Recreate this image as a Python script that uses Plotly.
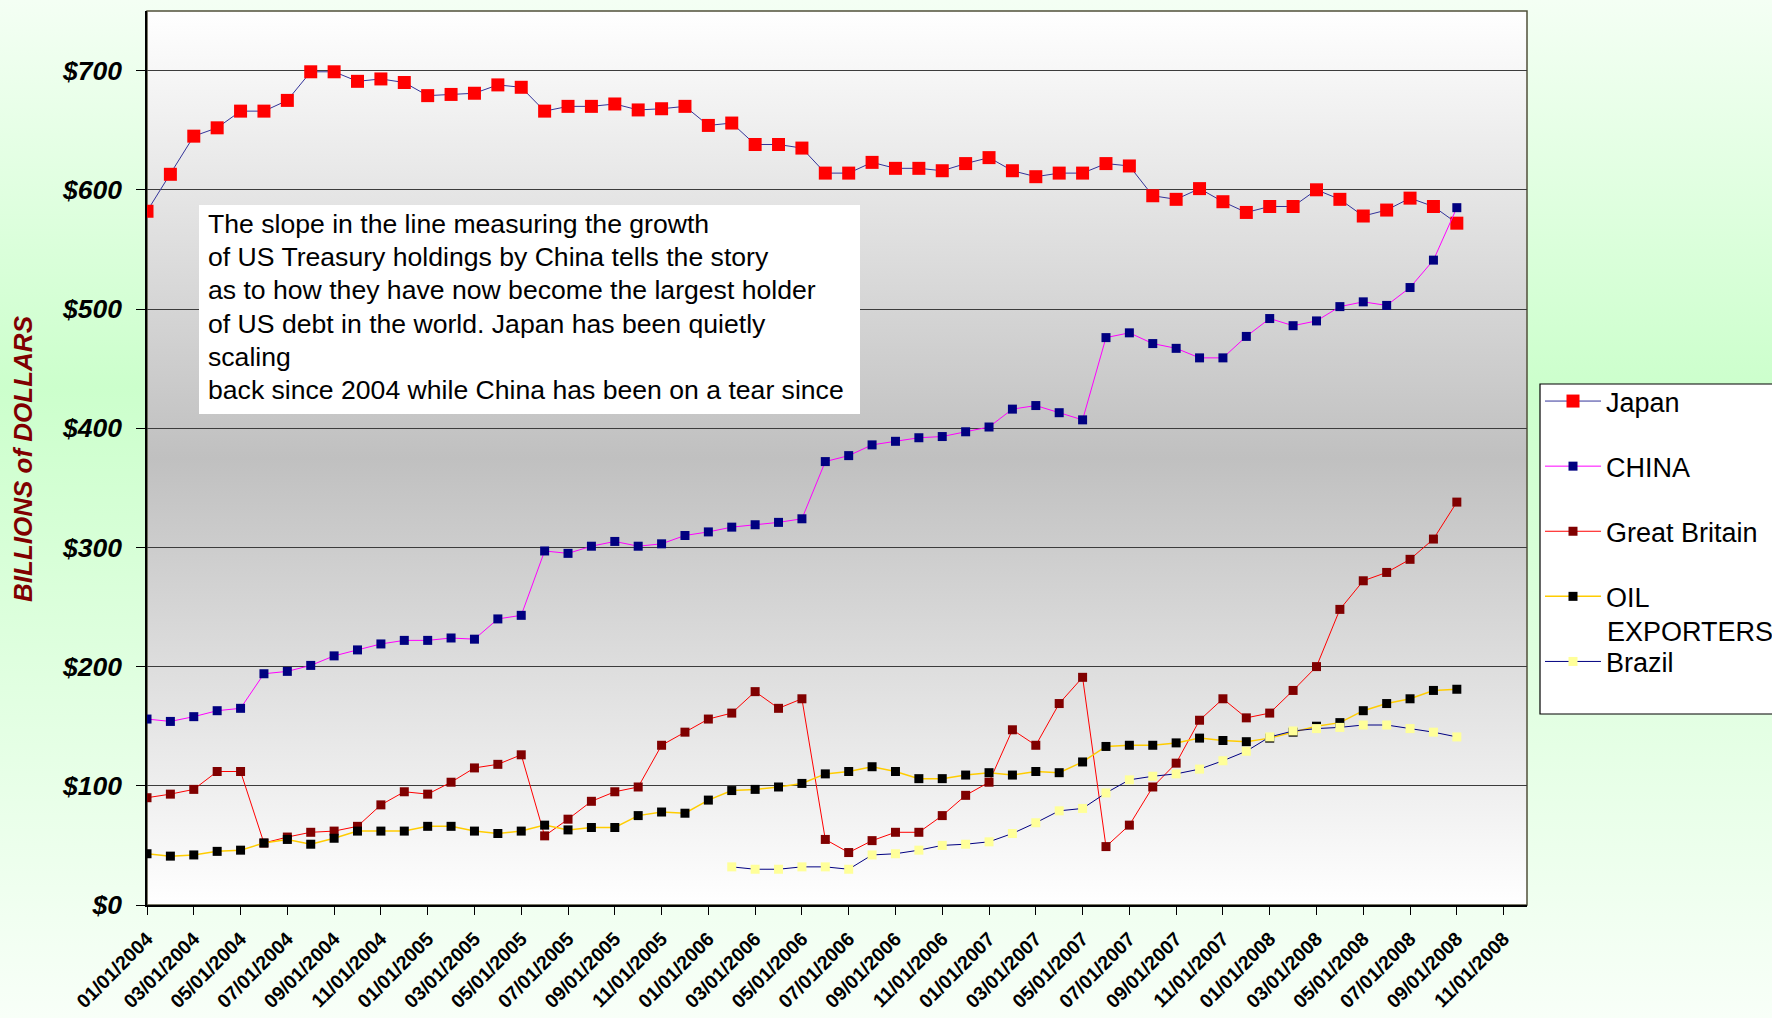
import base64
import plotly.graph_objects as go

# ---------------- data ----------------
months = [f"{m:02d}/01/{y}" for y in range(2004, 2009) for m in range(1, 13)]  # 01/2004 .. 12/2008
dates = months[:57]  # 01/01/2004 .. 09/01/2008

japan = [582, 613, 645, 652, 666, 666, 675, 699, 699, 691, 693, 690, 679, 680, 681, 688, 686,
         666, 670, 670, 672, 667, 668, 670, 654, 656, 638, 638, 635, 614, 614, 623, 618, 618,
         616, 622, 627, 616, 611, 614, 614, 622, 620, 595, 592, 601, 590, 581, 586, 586, 600,
         592, 578, 583, 593, 586, 572]
china = [156, 154, 158, 163, 165, 194, 196, 201, 209, 214, 219, 222, 222, 224, 223, 240, 243,
         297, 295, 301, 305, 301, 303, 310, 313, 317, 319, 321, 324, 372, 377, 386, 389, 392,
         393, 397, 401, 416, 419, 413, 407, 476, 480, 471, 467, 459, 459, 477, 492, 486, 490,
         502, 506, 503, 518, 541, 585]
great_britain = [90, 93, 97, 112, 112, 52, 57, 61, 62, 66, 84, 95, 93, 103, 115, 118, 126,
                 58, 72, 87, 95, 99, 134, 145, 156, 161, 179, 165, 173, 55, 44, 54, 61, 61,
                 75, 92, 103, 147, 134, 169, 191, 49, 67, 99, 119, 155, 173, 157, 161, 180,
                 200, 248, 272, 279, 290, 307, 338]
oil_exporters = [43, 41, 42, 45, 46, 52, 55, 51, 56, 62, 62, 62, 66, 66, 62, 60, 62, 67, 63,
                 65, 65, 75, 78, 77, 88, 96, 97, 99, 102, 110, 112, 116, 112, 106, 106, 109,
                 111, 109, 112, 111, 120, 133, 134, 134, 136, 140, 138, 137, 140, 145, 150,
                 153, 163, 169, 173, 180, 181]
brazil = [None] * 25 + [32, 30, 30, 32, 32, 30, 42, 43, 46, 50, 51, 53, 60, 69, 79, 81, 94,
                        105, 108, 110, 114, 121, 129, 141, 146, 148, 149, 151, 151, 148, 145,
                        141]

y_tick_values = [0, 100, 200, 300, 400, 500, 600, 700]
y_tick_labels = ["$0", "$100", "$200", "$300", "$400", "$500", "$600", "$700"]
x_tick_labels = months[0:59:2]  # 01/01/2004 .. 11/01/2008

note_lines = [
    "The slope in the line measuring the growth",
    "of US Treasury holdings by China tells the story",
    "as to how they have now become the largest holder",
    "of US debt in the world. Japan has been quietly",
    "scaling",
    "back since 2004 while China has been on a tear since",
]

# ---------------- geometry ----------------
W, H = 1772, 1018
ML, MR, MT, MB = 147, 245, 11, 113
PW, PH = W - ML - MR, H - MT - MB
LEG_X = 1540
ITEMW = 56


def px_x(x):
    return (x - ML) / PW


def px_y(y):
    return (H - MB - y) / PH


def grad_uri(stops):
    st = "".join(f'<stop offset="{o}" stop-color="{c}"/>' for o, c in stops)
    svg = ('<svg xmlns="http://www.w3.org/2000/svg" width="100" height="100" '
           'preserveAspectRatio="none"><defs><linearGradient id="g" x1="0" y1="0" x2="0" y2="1">'
           f'{st}</linearGradient></defs><rect width="100" height="100" fill="url(#g)"/></svg>')
    return "data:image/svg+xml;base64," + base64.b64encode(svg.encode()).decode()


paper_grad = grad_uri([(0, "#f4fff4"), (0.38, "#ccffcc"), (1, "#f8fff8")])
plot_grad = grad_uri([(0, "#ffffff"), (0.5, "#c0c0c0"), (1, "#ffffff")])

fig = go.Figure()

series = [
    ("Japan", japan, "#333399", 1, "#ff0000", 13),
    ("CHINA", china, "#ff00ff", 1, "#000080", 9),
    ("Great Britain", great_britain, "#ff0000", 1, "#800000", 9),
    ("OIL", oil_exporters, "#ffcc00", 1.5, "#000000", 9),
    ("Brazil", brazil, "#000080", 1, "#ffff99", 9),
]
for name, vals, lc, lw, mc, ms in series:
    fig.add_trace(go.Scatter(
        x=dates, y=vals, name=name, mode="lines+markers",
        line=dict(color=lc, width=lw),
        marker=dict(symbol="square", size=ms, color=mc, line=dict(width=0)),
        legendgroup=name, connectgaps=False,
    ))

bold_it = dict(weight="bold", style="italic", color="black")
legend_font = dict(family="Liberation Sans, Arial, sans-serif", size=27, color="black")
note_font = dict(family="Liberation Sans, Arial, sans-serif", size=26.6, color="black")

annotations = [
    dict(text=line, xref="paper", yref="paper",
         x=px_x(206), y=px_y(224 + 33.2 * k), xanchor="left", yanchor="middle",
         align="left", showarrow=False, font=note_font)
    for k, line in enumerate(note_lines)
]
annotations += [
    dict(text="BILLIONS of DOLLARS", xref="paper", yref="paper",
         x=px_x(23), y=px_y(459), xanchor="center", yanchor="middle",
         textangle=-90, showarrow=False,
         font=dict(family="Liberation Sans Narrow, Liberation Sans, Arial, sans-serif",
                   size=26, weight="bold", style="italic", color="#800000")),
    # second line of the "OIL EXPORTERS" legend entry
    dict(text="EXPORTERS", xref="paper", yref="paper",
         x=px_x(LEG_X + ITEMW + 9), y=px_y(632), xanchor="left", yanchor="middle",
         showarrow=False, font=legend_font),
]

fig.update_layout(
    width=W, height=H,
    margin=dict(l=ML, r=MR, t=MT, b=MB, autoexpand=False),
    paper_bgcolor="#ffffff",
    plot_bgcolor="rgba(0,0,0,0)",
    showlegend=True,
    legend=dict(
        x=px_x(LEG_X), y=px_y(377), xanchor="left", yanchor="top",
        bgcolor="rgba(0,0,0,0)", borderwidth=0,
        font=legend_font, itemwidth=ITEMW,
        traceorder="grouped", tracegroupgap=27,
    ),
    xaxis=dict(
        type="category", categoryorder="array", categoryarray=months,
        range=[0, 59], showgrid=False, zeroline=False,
        showline=True, linecolor="#000000", linewidth=1.5,
        ticks="outside", ticklen=8, tickcolor="#000000", tickwidth=1,
        tickmode="array", tickvals=x_tick_labels, ticktext=x_tick_labels,
        tickangle=-45, ticklabelstandoff=5,
        tickfont=dict(family="Liberation Sans, Arial, sans-serif", size=19.5,
                      weight="bold", color="black"),
    ),
    yaxis=dict(
        range=[0, 750], showgrid=True, gridcolor="#3c3c3c", gridwidth=1.2,
        zeroline=False, showline=True, linecolor="#000000", linewidth=1.5,
        ticks="outside", ticklen=9, tickcolor="#000000",
        tickmode="array", tickvals=y_tick_values, ticktext=y_tick_labels,
        ticklabelstandoff=9,
        tickfont=dict(family="Liberation Sans, Arial, sans-serif", size=26.5, **bold_it),
    ),
    images=[
        dict(source=paper_grad, xref="paper", yref="paper",
             x=-ML / PW, y=1 + MT / PH, sizex=W / PW, sizey=H / PH,
             xanchor="left", yanchor="top", sizing="stretch", layer="below"),
        dict(source=plot_grad, xref="paper", yref="paper",
             x=0, y=1, sizex=1, sizey=1,
             xanchor="left", yanchor="top", sizing="stretch", layer="below"),
    ],
    shapes=[
        dict(type="rect", xref="paper", yref="paper", x0=0, x1=1, y0=0, y1=1,
             line=dict(color="#50503a", width=1.5), fillcolor="rgba(0,0,0,0)", layer="below"),
        # white box behind the note
        dict(type="rect", xref="paper", yref="paper",
             x0=px_x(199), x1=px_x(860), y0=px_y(414), y1=px_y(205),
             line=dict(width=0), fillcolor="#ffffff", layer="above"),
        # legend frame
        dict(type="rect", xref="paper", yref="paper",
             x0=px_x(LEG_X), x1=px_x(1810), y0=px_y(714), y1=px_y(384),
             line=dict(color="#000000", width=1.2), fillcolor="#ffffff", layer="above"),
    ],
    annotations=annotations,
)

fig.write_html("out.html", config={"displayModeBar": False},
               post_script="document.body.style.margin='0';")
